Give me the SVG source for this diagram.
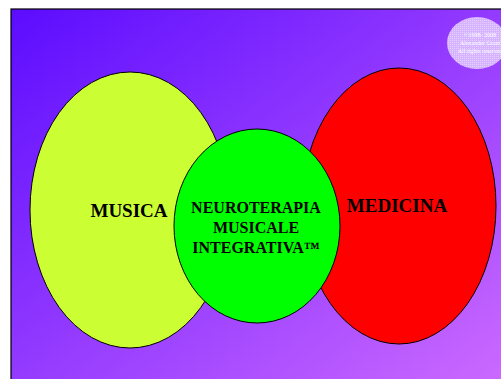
<svg xmlns="http://www.w3.org/2000/svg" width="501" height="379" viewBox="0 0 501 379">
<defs>
<linearGradient id="bg" x1="0" y1="0" x2="1" y2="1">
<stop offset="0" stop-color="#5c0cff"/>
<stop offset="1" stop-color="#cc6aff"/>
</linearGradient>
<pattern id="dots" width="2" height="2" patternUnits="userSpaceOnUse">
<rect width="2" height="2" fill="#dcc0ff"/>
<rect width="1" height="1" fill="#f0e0ff"/>
</pattern>
<style>
.ell{stroke:#000;stroke-width:1}
.lbl{font-family:"Liberation Serif",serif;font-weight:bold;fill:#000;text-anchor:middle}
.cp{font-family:"Liberation Serif",serif;font-size:6px;fill:#fff;text-anchor:middle}
</style>
</defs>
<rect width="501" height="379" fill="#fff"/>
<rect x="11" y="9" width="495" height="375" fill="url(#bg)" stroke="#000" stroke-width="1.2"/>
<g id="copyright">
<ellipse cx="477" cy="43" rx="30" ry="26" fill="url(#dots)" opacity="0.9"/>
<text class="cp" x="480" y="37">©1998- 2008</text>
<text class="cp" x="480" y="45">Alexander Grant</text>
<text class="cp" x="480" y="53">All rights reserved</text>
</g>
<g id="musica">
<ellipse class="ell" cx="130" cy="210" rx="100" ry="138" fill="#ccff33"/>
<text class="lbl" x="129" y="217" font-size="19">MUSICA</text>
</g>
<g id="medicina">
<ellipse class="ell" cx="399" cy="206" rx="97" ry="138" fill="#ff0000"/>
<text class="lbl" x="397" y="212" font-size="19">MEDICINA</text>
</g>
<g id="neuroterapia">
<ellipse class="ell" cx="257" cy="226" rx="83" ry="97" fill="#00ff00"/>
<text class="lbl" x="256" y="213" font-size="16">NEUROTERAPIA</text>
<text class="lbl" x="256" y="233" font-size="16">MUSICALE</text>
<text class="lbl" x="256" y="253" font-size="16">INTEGRATIVA™</text>
</g>
<g id="connectors"/>
</svg>
